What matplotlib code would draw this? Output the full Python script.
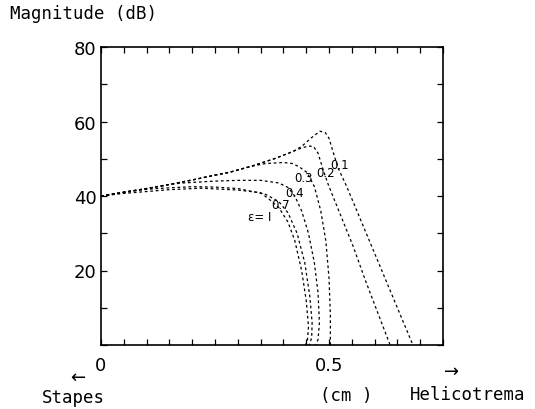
import matplotlib
matplotlib.use("Agg")
import matplotlib.pyplot as plt

# curves: distance from stapes (cm) -> magnitude (dB), one per epsilon
x_e01 = [0, 0.05, 0.1, 0.15, 0.2, 0.25, 0.283, 0.327, 0.38, 0.42, 0.44, 0.46, 0.48, 0.492, 0.5, 0.509, 0.52, 0.539, 0.684]
y_e01 = [40, 41, 42, 43.1, 44.3, 45.6, 46.4, 47.9, 50, 51.9, 53.3, 55.5, 57.4, 57, 55.5, 51.8, 47.5, 42.5, 0]

x_e02 = [0, 0.05, 0.1, 0.15, 0.2, 0.25, 0.283, 0.327, 0.38, 0.42, 0.44, 0.455, 0.466, 0.476, 0.486, 0.497, 0.509, 0.553, 0.579, 0.634]
y_e02 = [40, 41, 42, 43.1, 44.3, 45.6, 46.4, 47.9, 50, 51.9, 52.9, 53.4, 53.3, 51.5, 47.5, 43.5, 39.8, 26.5, 17.6, 0]

x_e03 = [0, 0.05, 0.1, 0.15, 0.2, 0.25, 0.283, 0.327, 0.36, 0.4, 0.42, 0.435, 0.452, 0.468, 0.482, 0.493, 0.5, 0.503, 0.503]
y_e03 = [40, 41, 42, 43.1, 44.3, 45.6, 46.4, 47.9, 48.7, 49, 48.7, 47.8, 46.3, 42.5, 36, 28, 18, 8, 0]

x_e04 = [0, 0.05, 0.1, 0.15, 0.18, 0.25, 0.3, 0.35, 0.39, 0.41, 0.425, 0.44, 0.455, 0.468, 0.476, 0.479, 0.476, 0.471]
y_e04 = [40, 41, 42, 43.1, 43.5, 44, 44.2, 44.2, 43.5, 42.3, 40, 36, 30, 22, 14, 6, 1.5, 0]

x_e07 = [0, 0.05, 0.1, 0.15, 0.2, 0.25, 0.3, 0.34, 0.36, 0.39, 0.41, 0.43, 0.447, 0.458, 0.463, 0.462, 0.457]
y_e07 = [40, 41, 41.8, 42.2, 42.5, 42.4, 42, 41, 40.5, 38.5, 35.5, 30, 22, 13, 6, 2, 0]

x_e1 = [0, 0.05, 0.1, 0.15, 0.22, 0.3, 0.35, 0.37, 0.39, 0.41, 0.425, 0.44, 0.45, 0.455, 0.453, 0.449]
y_e1 = [40, 40.7, 41.2, 41.7, 42.1, 41.6, 40.9, 39, 36.9, 33, 28, 20, 12, 5, 1.5, 0]

curve_labels = ["0.1", "0.2", "0.3", "0.4", "0.7", "ε= I"]
label_x = [0.524, 0.493, 0.443, 0.425, 0.393, 0.349]
label_y = [48.4, 46.3, 45.0, 40.9, 37.7, 34.5]

mono = "DejaVu Sans Mono"

fig = plt.figure(figsize=(5.35, 4.10), dpi=100)
ax = fig.add_axes([101 / 535, 64 / 410, 342 / 535, 298 / 410])

for xs, ys in [(x_e01, y_e01), (x_e02, y_e02), (x_e03, y_e03),
               (x_e04, y_e04), (x_e07, y_e07), (x_e1, y_e1)]:
    ax.plot(xs, ys, color="black", lw=0.9, linestyle=(0, (2.2, 2.2)))

for lab, lx, ly in zip(curve_labels, label_x, label_y):
    ax.text(lx, ly, lab, fontsize=8.5, ha="center", va="center")

ax.set_xlim(0, 0.75)
ax.set_ylim(0, 80)

xt = [i * 0.05 for i in range(16)]
ax.set_xticks(xt)
ax.set_xticklabels(["0" if i == 0 else ("0.5" if i == 10 else "") for i in range(16)], fontsize=13)
ax.set_yticks([0, 10, 20, 30, 40, 50, 60, 70, 80])
ax.set_yticklabels(["", "", "20", "", "40", "", "60", "", "80"], fontsize=13)
ax.tick_params(direction="in", length=4, width=0.9, top=True, right=True)
ax.tick_params(axis="x", pad=8)
ax.tick_params(axis="y", pad=3)
for s in ax.spines.values():
    s.set_linewidth(1.2)

fig.text(10 / 535, 1 - 14 / 410, "Magnitude (dB)", fontsize=12.5, family=mono, ha="left", va="center")
fig.text(42 / 535, 1 - 398 / 410, "Stapes", fontsize=12.5, family=mono, ha="left", va="center")
fig.text(346 / 535, 1 - 396 / 410, "(cm )", fontsize=12.5, family=mono, ha="center", va="center")
fig.text(410 / 535, 1 - 395 / 410, "Helicotrema", fontsize=12.5, family=mono, ha="left", va="center")
fig.text(78 / 535, 1 - 378 / 410, "←", fontsize=13, ha="center", va="center")
fig.text(452 / 535, 1 - 372 / 410, "→", fontsize=13, ha="center", va="center")

fig.savefig("out.png", dpi=100)
